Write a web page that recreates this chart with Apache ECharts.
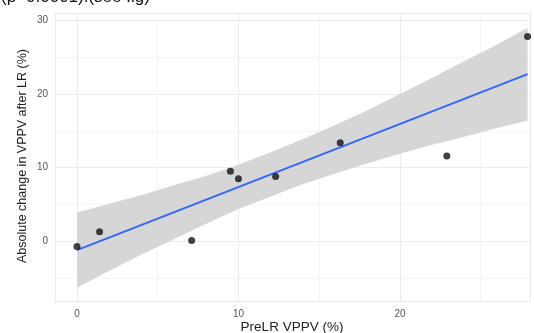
<!DOCTYPE html>
<html>
<head>
<meta charset="utf-8">
<script src="https://cdn.jsdelivr.net/npm/echarts@6/dist/echarts.min.js"></script>
<style>html,body{margin:0;padding:0;background:#fff}#c{width:534px;height:333px}</style>
</head>
<body>
<div id="c"></div>
<script>
// Scatter points (PreLR VPPV %, absolute change %)
var preLR = [0, 1.4, 7.1, 9.5, 10.0, 12.3, 16.3, 22.9, 27.9];
var changeVPPV = [-0.7, 1.3, 0.1, 9.5, 8.5, 8.8, 13.4, 11.6, 27.8];
// Fitted line
var fitX = [0, 27.9];
var fitY = [-1.2, 22.7];
// Confidence band
var bandX = [0, 2, 4, 6, 8, 10, 12, 14, 16, 18, 20, 22, 24, 26, 27.9];
var bandLower = [-6.3, -4.0, -1.8, 0.3, 2.4, 4.4, 6.1, 7.8, 9.2, 10.6, 11.9, 13.1, 14.2, 15.4, 16.4];
var bandUpper = [3.9, 5.1, 6.3, 7.6, 8.9, 10.4, 12.1, 13.9, 15.8, 17.8, 20.0, 22.2, 24.5, 26.7, 29.0];
var xTicks = [0, 10, 20];
var yTicks = [0, 10, 20, 30];
var titleText = '(p=0.0001).(see fig)';
var xTitle = 'PreLR VPPV (%)';
var yTitle = 'Absolute change in VPPV after LR (%)';

var chart = echarts.init(document.getElementById('c'), null, {renderer: 'canvas'});
var pts = preLR.map(function (x, i) { return [x, changeVPPV[i]]; });
var fit = fitX.map(function (x, i) { return [x, fitY[i]]; });
var bandData = bandX.map(function (x, i) { return [x, bandLower[i], bandUpper[i]]; });

function isTick(list, v) { return list.indexOf(Math.round(v * 1000) / 1000) >= 0; }

chart.setOption({
  animation: false,
  backgroundColor: '#ffffff',
  grid: {left: 55, right: 4, top: 13, bottom: 32},
  xAxis: {
    type: 'value', min: -1.36, max: 28.05, splitNumber: 3,
    axisLine: {show: false}, axisTick: {show: false},
    axisLabel: {showMinLabel: false, showMaxLabel: false, margin: 8, color: '#555', fontSize: 10,
      fontFamily: 'Liberation Sans',
      formatter: function (v) { return isTick(xTicks, v) ? String(v) : ''; }},
    splitLine: {show: true, lineStyle: {color: '#ebebeb', width: 1}},
    minorTick: {show: false, splitNumber: 2},
    minorSplitLine: {show: true, lineStyle: {color: '#f4f4f4', width: 1}}
  },
  yAxis: {
    type: 'value', min: -8.1, max: 31, splitNumber: 4,
    axisLine: {show: false}, axisTick: {show: false},
    axisLabel: {showMinLabel: false, showMaxLabel: false, margin: 7, color: '#555', fontSize: 10,
      fontFamily: 'Liberation Sans',
      formatter: function (v) { return isTick(yTicks, v) ? String(v) : ''; }},
    splitLine: {show: true, lineStyle: {color: '#ebebeb', width: 1}},
    minorTick: {show: false, splitNumber: 2},
    minorSplitLine: {show: true, lineStyle: {color: '#f4f4f4', width: 1}}
  },
  series: [
    {
      type: 'custom',
      data: bandData,
      z: 1,
      renderItem: function (params, api) {
        if (params.dataIndex !== 0) return null;
        var up = [], lo = [];
        for (var i = 0; i < bandData.length; i++) {
          up.push(api.coord([bandData[i][0], bandData[i][2]]));
          lo.unshift(api.coord([bandData[i][0], bandData[i][1]]));
        }
        return {type: 'polygon', shape: {points: up.concat(lo)},
          style: {fill: '#d6d6d6', stroke: null}};
      }
    },
    {
      type: 'line', data: fit, showSymbol: false, z: 3,
      lineStyle: {color: '#3366ff', width: 2}
    },
    {
      type: 'scatter', data: pts, symbolSize: 7, z: 4,
      itemStyle: {color: '#111111'}
    }
  ],
  graphic: [
    {type: 'text', left: 1, top: -11, style: {text: titleText, font: '17px "Liberation Sans"', fill: '#111'}},
    {type: 'text', x: 292, y: 327, style: {text: xTitle, font: '13.5px "Liberation Sans"', fill: '#222', align: 'center', verticalAlign: 'middle'}},
    {type: 'text', x: 23, y: 156, rotation: Math.PI / 2, style: {text: yTitle, font: '12.5px "Liberation Sans"', fill: '#222', align: 'center', verticalAlign: 'middle'}}
  ]
});
</script>
</body>
</html>
